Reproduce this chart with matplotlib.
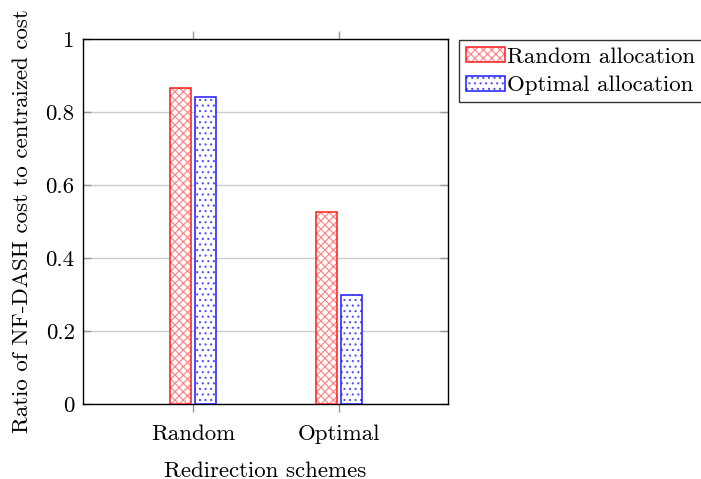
import matplotlib
matplotlib.use("Agg")
import matplotlib.pyplot as plt
from matplotlib.legend_handler import HandlerTuple
import numpy as np

categories = ["Random", "Optimal"]
series_names = ["Random allocation", "Optimal allocation"]
random_alloc = [0.866, 0.526]
optimal_alloc = [0.841, 0.299]
yticks = [0, 0.2, 0.4, 0.6, 0.8, 1]
ytick_labels = ["0", "0.2", "0.4", "0.6", "0.8", "1"]

plt.rcParams["font.family"] = ["cmr10", "DejaVu Serif"]
plt.rcParams["mathtext.fontset"] = "cm"
plt.rcParams["axes.formatter.use_mathtext"] = True
plt.rcParams["hatch.linewidth"] = 0.8

FS = 16.5
LFS = 16.5
fig = plt.figure(figsize=(7.01, 4.79), dpi=100)
ax = fig.add_axes([83/701, 1-404/479, (448-83)/701, (404-39)/479])

x = np.arange(len(categories))
w = 0.145
off = 0.087
h1 = ax.bar(x - off, random_alloc, w, facecolor="white", edgecolor="#ff8080",
            hatch="xxxx", linewidth=0, zorder=3)
o1 = ax.bar(x - off, random_alloc, w, fill=False, edgecolor="#ff1a1a",
            linewidth=1.1, zorder=4)
h2 = ax.bar(x + off, optimal_alloc, w, facecolor="white", edgecolor="#5050ff",
            hatch="...", linewidth=0, zorder=3)
o2 = ax.bar(x + off, optimal_alloc, w, fill=False, edgecolor="#1a1aff",
            linewidth=1.1, zorder=4)

ax.set_xlim(-0.753, 1.747)
ax.set_ylim(0, 1)
ax.set_xticks(x)
ax.set_xticklabels(categories, fontsize=FS)
ax.set_yticks(yticks)
ax.set_yticklabels(ytick_labels, fontsize=FS)
ax.yaxis.grid(True, color="#cccccc", linewidth=1.0, zorder=0)
ax.set_axisbelow(True)

ax.tick_params(axis="x", direction="out", top=True, bottom=True, length=6,
               color="#999999", width=1, pad=9)
ax.tick_params(axis="y", direction="in", left=True, right=True, length=6,
               color="#999999", width=1, pad=6)
for s in ax.spines.values():
    s.set_linewidth(1.0)
    s.set_color("black")

ax.set_xlabel("Redirection schemes", fontsize=FS, labelpad=12)
ax.set_ylabel("Ratio of NF-DASH cost to centraized cost", fontsize=FS, labelpad=10)

leg = fig.legend(handles=[(h1[0], o1[0]), (h2[0], o2[0])], labels=series_names,
                 handler_map={tuple: HandlerTuple(ndivide=1, pad=0)},
                 loc="upper left",
                 bbox_to_anchor=(459/701, 1-40/479), fontsize=LFS,
                 frameon=True, fancybox=False, edgecolor="black",
                 handlelength=1.7, handleheight=0.65, handletextpad=0.1,
                 borderpad=0.3, labelspacing=0.4, borderaxespad=0)
leg.get_frame().set_linewidth(1.0)

fig.savefig("out.png", dpi=100)
